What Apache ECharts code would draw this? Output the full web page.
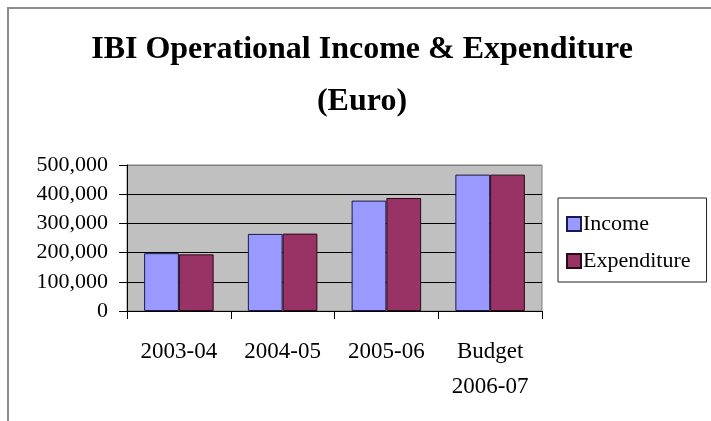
<!DOCTYPE html>
<html>
<head>
<meta charset="utf-8">
<script src="https://cdn.jsdelivr.net/npm/echarts@6/dist/echarts.min.js"></script>
<style>
  html, body { margin: 0; padding: 0; background: #fff; }
  #wrap { position: relative; width: 711px; height: 421px; overflow: hidden; }
  #chart { position: absolute; left: 0; top: 0; width: 711px; height: 421px; }
  #frame { position: absolute; left: 7px; top: 7px; width: 720px; height: 430px;
           border-left: 2px solid #8c8c8c; border-top: 2px solid #8c8c8c; pointer-events: none; }
</style>
</head>
<body>
<div id="wrap">
  <div id="chart"></div>
  <div id="frame"></div>
</div>
<script>
var titleText = 'IBI Operational Income & Expenditure\n(Euro)';
var categories = ['2003-04', '2004-05', '2005-06', 'Budget\n2006-07'];
var seriesNames = ['Income', 'Expenditure'];
var income = [198000, 264000, 378000, 467000];
var expenditure = [194000, 265000, 387000, 467000];
var yMin = 0, yMax = 500000, yStep = 100000;

var serif = '"Liberation Serif", "Times New Roman", serif';
var chart = echarts.init(document.getElementById('chart'), null, { renderer: 'canvas' });

function fmt(v) {
  return String(v).replace(/\B(?=(\d{3})+(?!\d))/g, ',');
}

chart.setOption({
  backgroundColor: '#ffffff',
  animation: false,
  title: {
    text: titleText,
    left: 357,
    textAlign: 'center',
    top: 19,
    textStyle: {
      fontFamily: serif,
      fontWeight: 'bold',
      fontSize: 32,
      lineHeight: 52,
      color: '#000'
    }
  },
  legend: {
    orient: 'vertical',
    left: 558,
    top: 198,
    padding: [15, 16, 10, 8],
    itemGap: 15,
    itemWidth: 14,
    itemHeight: 14,
    icon: 'rect',
    borderColor: '#222',
    borderWidth: 1,
    textStyle: { fontFamily: serif, fontSize: 22, color: '#000', padding: [0, 0, 0, -3] },
    data: seriesNames
  },
  grid: {
    left: 127,
    right: 169,
    top: 165,
    bottom: 110,
    show: true,
    backgroundColor: '#c0c0c0',
    borderColor: '#808080',
    borderWidth: 1,
    containLabel: false
  },
  xAxis: {
    type: 'category',
    data: categories,
    boundaryGap: true,
    axisLine: { show: true, lineStyle: { color: '#000', width: 1 } },
    axisTick: { show: true, length: 8, lineStyle: { color: '#000' } },
    axisLabel: {
      fontFamily: serif,
      fontSize: 23,
      lineHeight: 35,
      color: '#000',
      margin: 23,
      interval: 0
    },
    splitLine: { show: false }
  },
  yAxis: {
    type: 'value',
    min: yMin,
    max: yMax,
    interval: yStep,
    axisLine: { show: true, lineStyle: { color: '#000', width: 1 } },
    axisTick: { show: true, length: 8, lineStyle: { color: '#000' } },
    axisLabel: {
      fontFamily: serif,
      fontSize: 22,
      color: '#000',
      margin: 19,
      formatter: fmt
    },
    splitLine: {
      show: true,
      lineStyle: { color: ['#000', '#000', '#000', '#000', '#000', '#808080'], width: 1 }
    }
  },
  series: [
    {
      name: seriesNames[0],
      type: 'bar',
      data: income,
      barGap: '0%',
      barCategoryGap: '33%',
      itemStyle: { color: '#9999ff', borderColor: '#1a1a4a', borderWidth: 1 }
    },
    {
      name: seriesNames[1],
      type: 'bar',
      data: expenditure,
      barGap: '0%',
      barCategoryGap: '33%',
      itemStyle: { color: '#993366', borderColor: '#2a0a1a', borderWidth: 1 }
    }
  ]
});
</script>
</body>
</html>
